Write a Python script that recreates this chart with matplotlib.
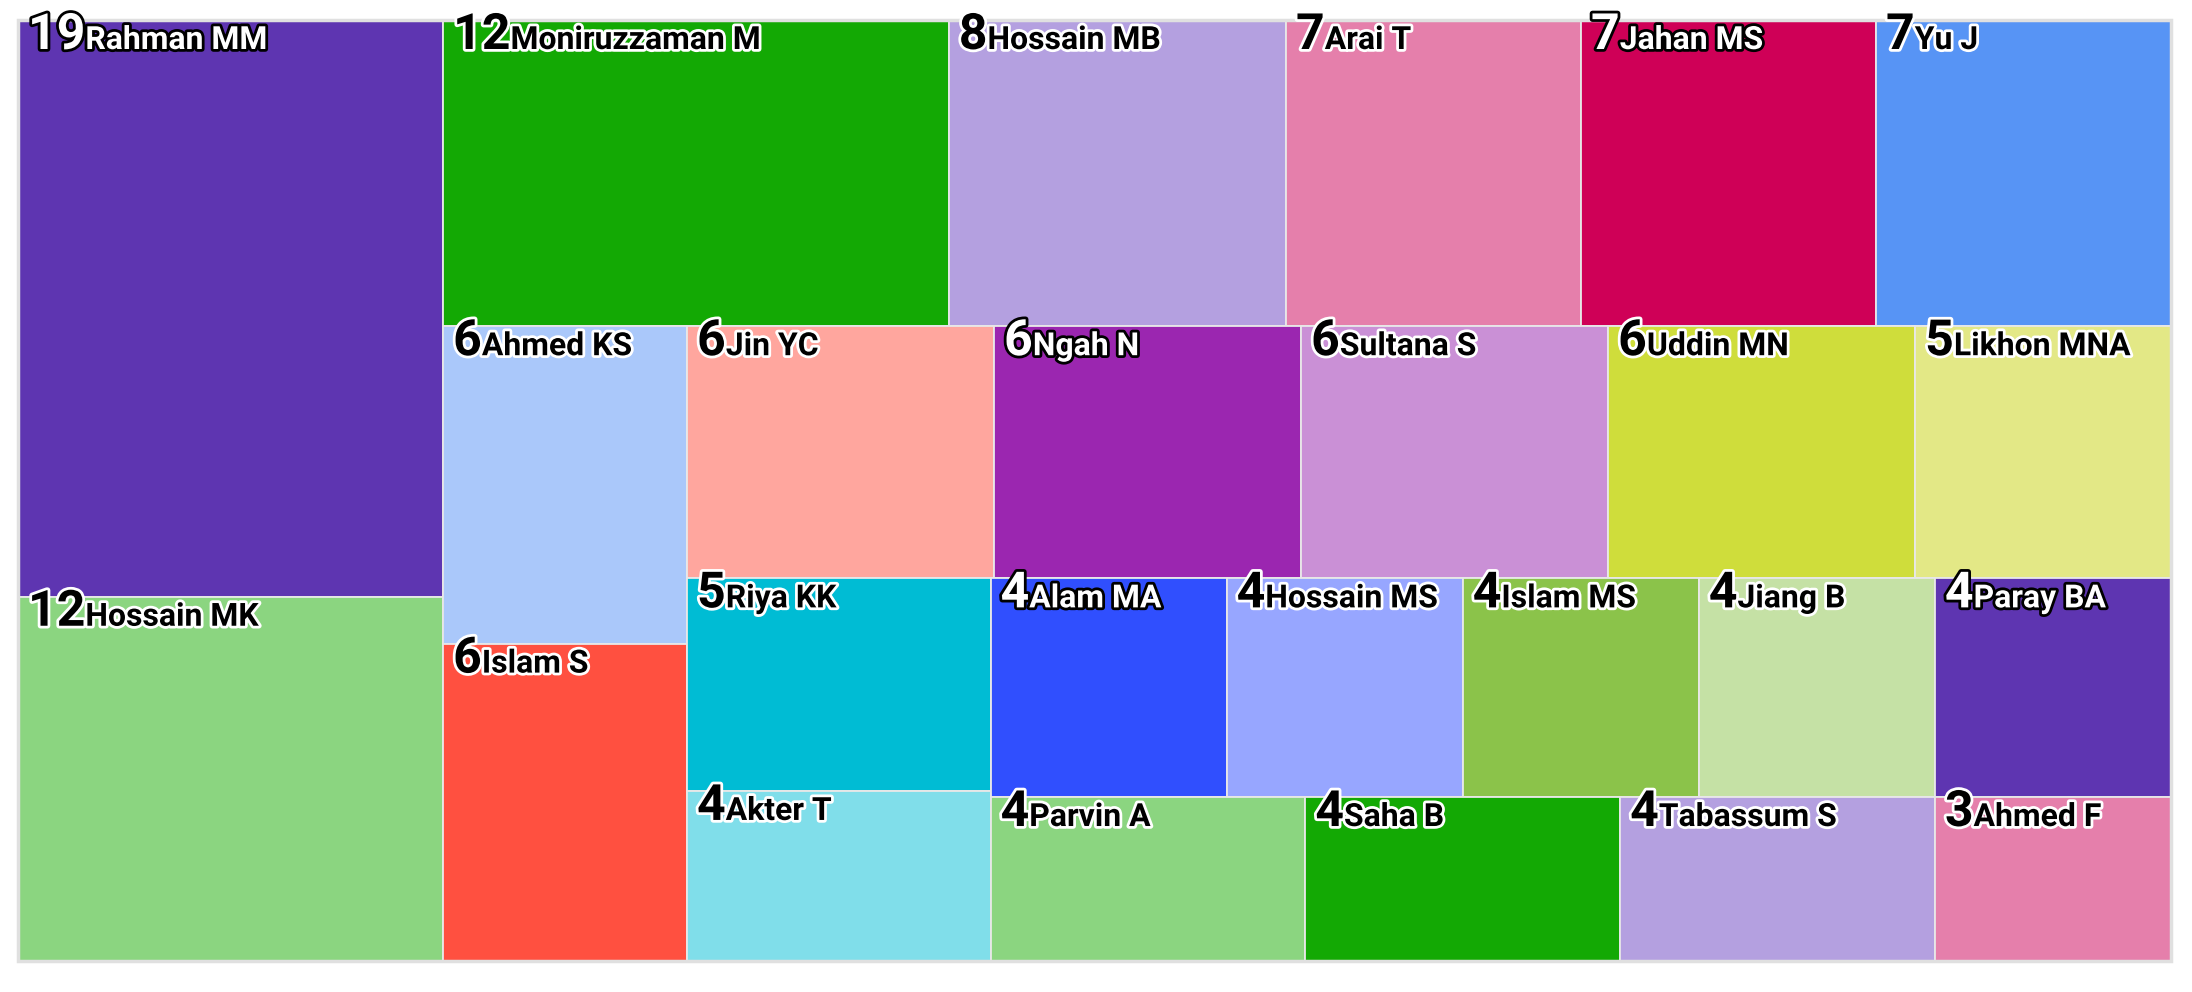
import matplotlib
matplotlib.use("Agg")
import matplotlib.pyplot as plt
import matplotlib.patheffects as pe
from matplotlib.colors import to_rgb
from matplotlib.patches import Rectangle

# data (most relevant authors, number of documents)
authors = ["Rahman MM", "Hossain MK", "Moniruzzaman M", "Hossain MB", "Arai T",
           "Jahan MS", "Yu J", "Ahmed KS", "Islam S", "Jin YC", "Ngah N",
           "Sultana S", "Uddin MN", "Likhon MNA", "Riya KK", "Akter T",
           "Alam MA", "Hossain MS", "Islam MS", "Jiang B", "Paray BA",
           "Parvin A", "Saha B", "Tabassum S", "Ahmed F"]
docs = [19, 12, 12, 8, 7, 7, 7, 6, 6, 6, 6, 6, 6, 5, 5, 4, 4, 4, 4, 4, 4, 4, 4, 4, 3]

palette = ["#5e35b1", "#8bd580", "#13a904", "#b4a0e0", "#e57fab",
           "#cf0057", "#5794f5", "#aac8fa", "#ff5040", "#ffa69e",
           "#9b26b0", "#ca90d6", "#cfdd3b", "#e3e886", "#00bcd4",
           "#80deea", "#304ffe", "#97a6ff", "#8bc34a", "#c5e1a5"]


def aspect(a, b):
    return max(a / b, b / a)


def squarify_alt(values, x, y, w, h, vertical=True):
    """Squarified layout that alternates strip direction after each strip."""
    rects = []
    i, n = 0, len(values)
    while i < n:
        rem = sum(values[i:])
        j = i + 1
        while j < n:
            s_old = sum(values[i:j])
            s_new = s_old + values[j]
            last = values[j - 1]
            if vertical:
                old = aspect(w * s_old / rem, h * last / s_old)
                new = aspect(w * s_new / rem, h * last / s_new)
            else:
                old = aspect(h * s_old / rem, w * last / s_old)
                new = aspect(h * s_new / rem, w * last / s_new)
            if new > old:
                break
            j += 1
        row = values[i:j]
        s = sum(row)
        if vertical:
            cw = w * s / rem
            yy = y
            for v in row:
                ch = h * v / s
                rects.append((x, yy, cw, ch))
                yy += ch
            x += cw
            w -= cw
        else:
            rh = h * s / rem
            xx = x
            for v in row:
                rw = w * v / s
                rects.append((xx, y, rw, rh))
                xx += rw
            y += rh
            h -= rh
        vertical = not vertical
        i = j
    return rects


def luminance(c):
    lin = [v / 12.92 if v <= 0.03928 else ((v + 0.055) / 1.055) ** 2.4 for v in to_rgb(c)]
    return 0.2126 * lin[0] + 0.7152 * lin[1] + 0.0722 * lin[2]


W, H = 2153, 941
fig = plt.figure(figsize=(21.92, 9.92), dpi=100)
ax = fig.add_axes([18 / 2192, 31 / 992, W / 2192, H / 992])
ax.set_xlim(0, W)
ax.set_ylim(H, 0)
ax.axis("off")

rects = squarify_alt(docs, 0, 0, W, H)
for k, ((x, y, w, h), name, val) in enumerate(zip(rects, authors, docs)):
    col = palette[k % len(palette)]
    ax.add_patch(Rectangle((x, y), w, h, facecolor=col, edgecolor="#e8e8e8", lw=1.3))
    L = luminance(col)
    if (L + 0.05) / 0.05 > 1.05 / (L + 0.05):
        tc, oc = "black", "white"
    else:
        tc, oc = "white", "black"
    fx = [pe.withStroke(linewidth=4, foreground=oc)]
    num = ax.annotate(str(val), xy=(x, y), xytext=(10, -29), textcoords="offset pixels",
                      ha="left", va="baseline", fontsize=36, fontweight="bold",
                      family="Roboto", color=tc, path_effects=fx)
    ax.annotate(name, xy=(1, y), xycoords=(num, "data"), xytext=(0, -29),
                textcoords="offset pixels", ha="left", va="baseline", fontsize=23,
                fontweight="bold", family="Roboto", color=tc, path_effects=fx)

ax.add_patch(Rectangle((0, 0), W, H, fill=False, edgecolor="#e0e0e0", lw=2.5, clip_on=False))

fig.savefig("out.png", dpi=100)
